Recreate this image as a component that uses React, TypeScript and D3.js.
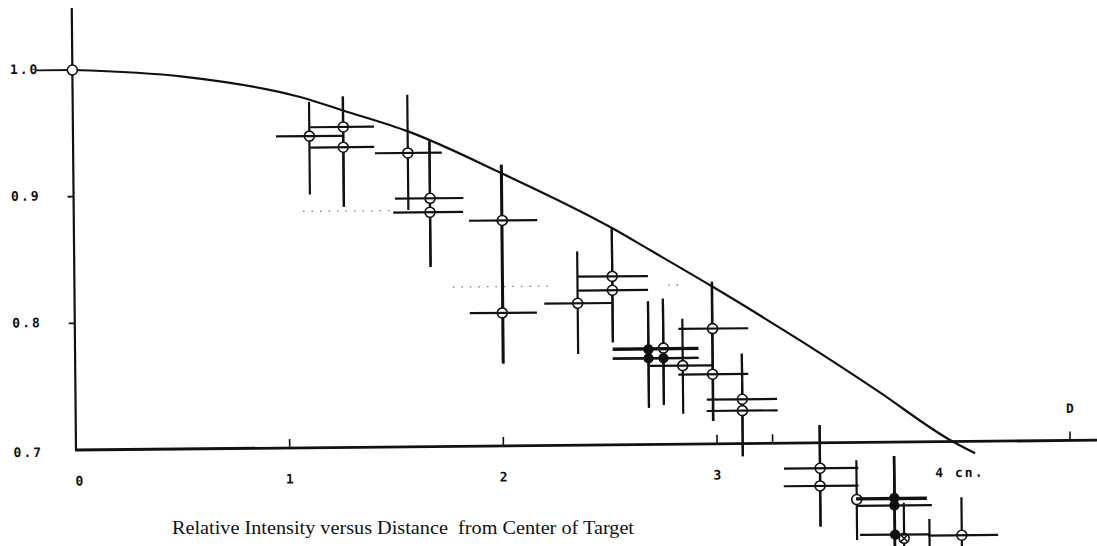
import React from "react";
import * as d3 from "d3";

// ---- data ----
const distance = [0, 1.106, 1.265, 1.264, 1.566, 1.668, 1.667, 2.005, 2.001, 2.517, 2.517, 2.354, 2.683, 2.753, 2.683, 2.753, 2.843, 2.984, 2.982, 3.12, 3.12, 3.481, 3.48, 3.651, 3.827, 3.827, 3.829, 3.871, 4.141, 3.99];
const intensity = [1.0, 0.946, 0.953, 0.937, 0.932, 0.896, 0.885, 0.878, 0.805, 0.833, 0.822, 0.812, 0.775, 0.776, 0.768, 0.768, 0.762, 0.791, 0.755, 0.735, 0.726, 0.68, 0.666, 0.655, 0.656, 0.65, 0.627, 0.624, 0.626, 0.607];
const distLow = [NaN, 0.95, 1.11, 1.11, 1.412, 1.504, 1.495, 1.849, 1.849, 2.357, 2.357, 2.198, 2.516, 2.516, 2.516, 2.516, 2.69, 2.824, 2.822, 2.954, 2.953, 3.312, 3.31, 3.648, 3.648, 3.647, 3.665, NaN, 3.983, NaN];
const distHigh = [NaN, 1.262, 1.409, 1.409, 1.725, 1.824, 1.822, 2.169, 2.163, 2.684, 2.684, 2.516, 2.917, 2.917, 2.917, 2.917, 2.985, 3.151, 3.149, 3.283, 3.285, 3.66, 3.66, 3.979, 3.979, 4.002, 3.99, NaN, 4.311, NaN];
const intLow = [NaN, 0.9, 0.89, 0.89, 0.887, 0.842, 0.842, 0.765, 0.765, 0.781, 0.781, 0.772, 0.729, 0.731, 0.729, 0.731, 0.724, 0.718, 0.718, 0.69, 0.69, 0.634, 0.634, 0.623, 0.6, 0.6, 0.6, 0.6, 0.59, 0.59];
const intHigh = [NaN, 0.973, 0.977, 0.977, 0.978, 0.941, 0.941, 0.922, 0.922, 0.872, 0.872, 0.853, 0.813, 0.815, 0.813, 0.815, 0.799, 0.828, 0.828, 0.771, 0.771, 0.714, 0.714, 0.686, 0.689, 0.689, 0.689, 0.652, 0.656, 0.639];
const marker = ["o", "o", "o", "o", "o", "o", "o", "o", "o", "o", "o", "o", "f", "o", "f", "f", "o", "o", "o", "o", "o", "o", "o", "o", "f", "f", "f", "x", "o", ""];

// theoretical curve
const curveDistance = [0, 0.517, 1.064, 1.265, 1.568, 2.007, 2.52, 2.695, 2.987, 3.393, 3.75, 4.09, 4.207];
const curveIntensity = [1.0, 0.994, 0.977, 0.966, 0.949, 0.915, 0.871, 0.8535, 0.824, 0.781, 0.741, 0.7013, 0.6906];

// axis ticks / labels
const xTickValues = [1, 2, 3, 3.26];
const xLabelValues = [0, 1, 2, 3];
const xLabelTexts = ["0", "1", "2", "3"];
const yLabelValues = [1.0, 0.9, 0.8, 0.7];
const yLabelTexts = ["1.0", "0.9", "0.8", "0.7"];
const unitLabel = "4 cn.";
const unitLabelAt = 4.02;
const dMark = 4.652;
const dLabel = "D";
const title = "Relative Intensity versus Distance  from Center of Target";

// faint dotted remnants
const dotStart = [1.073, 1.771, 2.778];
const dotEnd = [1.494, 2.239, 2.857];
const dotLevel = [0.8866, 0.8258, 0.8257];

const W = 1097;
const H = 546;
const TILT = -0.55;
const MONO = "'DejaVu Sans Mono', 'Liberation Mono', monospace";

export default function App() {
  const x = d3.scaleLinear().domain([0, 4]).range([76, 76 + 4 * 213.7]);
  const y = d3.scaleLinear().domain([0.7, 1.0]).range([450, 70]);
  const ox = x(0);
  const oy = y(0.7);

  const line = d3
    .line<number>()
    .x((d) => x(curveDistance[d]))
    .y((d) => y(curveIntensity[d]))
    .curve(d3.curveMonotoneX);
  const curvePath = line(curveDistance.map((_, i) => i)) || "";

  const idx = distance.map((_, i) => i);

  return (
    <svg width={W} height={H} style={{ position: "absolute", left: 0, top: 0, background: "#fff" }}>
      <rect width={W} height={H} fill="#fff" />
      <g transform={`rotate(${TILT}, ${ox}, ${oy})`}>
        {/* faint dotted lines */}
        {dotStart.map((d0, i) => (
          <line key={"dot" + i} x1={x(d0)} x2={x(dotEnd[i])} y1={y(dotLevel[i])} y2={y(dotLevel[i])}
            stroke="#777" strokeWidth={1.3} strokeDasharray="1.5 7" />
        ))}

        {/* axes */}
        <line x1={ox} x2={ox} y1={8} y2={oy} stroke="#111" strokeWidth={2.2} />
        <line x1={ox - 1} x2={1120} y1={oy} y2={oy} stroke="#111" strokeWidth={2.8} />

        {/* x ticks */}
        {xTickValues.map((t) => (
          <line key={"xt" + t} x1={x(t)} x2={x(t)} y1={oy} y2={oy - 9} stroke="#111" strokeWidth={1.6} />
        ))}
        <line x1={x(dMark)} x2={x(dMark)} y1={oy} y2={oy - 9} stroke="#111" strokeWidth={1.6} />

        {/* y ticks */}
        <line x1={40} x2={ox} y1={y(1.0)} y2={y(1.0)} stroke="#111" strokeWidth={1.8} />
        {[0.9, 0.8].map((t) => (
          <line key={"yt" + t} x1={ox - 6} x2={ox} y1={y(t)} y2={y(t)} stroke="#111" strokeWidth={1.8} />
        ))}

        {/* labels */}
        {xLabelValues.map((v, i) => (
          <text key={"xl" + v} x={x(v) + (v === 0 ? 3 : 0)} y={oy + 32} textAnchor="middle" dominantBaseline="middle"
            fontFamily={MONO} fontSize={13} fontWeight="bold" fill="#111">
            {xLabelTexts[i]}
          </text>
        ))}
        <text x={x(unitLabelAt)} y={oy + 32} dominantBaseline="middle" fontFamily={MONO} fontSize={13}
          fontWeight="bold" letterSpacing={2} fill="#111">
          {unitLabel}
        </text>
        <text x={x(dMark)} y={oy - 31} textAnchor="middle" dominantBaseline="middle" fontFamily={MONO}
          fontSize={13} fontWeight="bold" fill="#111">
          {dLabel}
        </text>
        {yLabelValues.map((v, i) => (
          <text key={"yl" + v} x={43} y={y(v) + (v === 0.7 ? 3 : 0)} textAnchor="end" dominantBaseline="middle"
            fontFamily={MONO} fontSize={13} fontWeight="bold" letterSpacing={2} fill="#111">
            {yLabelTexts[i]}
          </text>
        ))}

        {/* theoretical curve */}
        <path d={curvePath} fill="none" stroke="#111" strokeWidth={2.2} />

        {/* vertical error bars */}
        {idx.map((i) =>
          isNaN(intLow[i]) ? null : (
            <line key={"v" + i} x1={x(distance[i])} x2={x(distance[i])} y1={y(intLow[i])} y2={y(intHigh[i])}
              stroke="#111" strokeWidth={2.2} />
          )
        )}

        {/* markers */}
        {idx.map((i) => {
          const cx = x(distance[i]);
          const cy = y(intensity[i]);
          const m = marker[i];
          if (m === "o")
            return <circle key={"m" + i} cx={cx} cy={cy} r={5} fill="#fff" stroke="#111" strokeWidth={1.6} />;
          if (m === "f") return <circle key={"m" + i} cx={cx} cy={cy} r={5.2} fill="#111" />;
          if (m === "x")
            return (
              <g key={"m" + i}>
                <circle cx={cx} cy={cy} r={5} fill="#fff" stroke="#111" strokeWidth={1.6} />
                <path d={`M${cx - 3},${cy - 3}L${cx + 3},${cy + 3}M${cx + 3},${cy - 3}L${cx - 3},${cy + 3}`}
                  stroke="#111" strokeWidth={1.5} />
              </g>
            );
          return null;
        })}

        {/* horizontal error bars */}
        {idx.map((i) =>
          isNaN(distLow[i]) ? null : (
            <line key={"h" + i} x1={x(distLow[i])} x2={x(distHigh[i])} y1={y(intensity[i])} y2={y(intensity[i])}
              stroke="#111" strokeWidth={2.2} />
          )
        )}
      </g>

      <text x={172} y={534} fontFamily="'Liberation Serif', 'DejaVu Serif', serif" fontSize={19} fill="#111"
        textLength={462} lengthAdjust="spacingAndGlyphs" style={{ whiteSpace: "pre" }}>
        {title}
      </text>
    </svg>
  );
}
